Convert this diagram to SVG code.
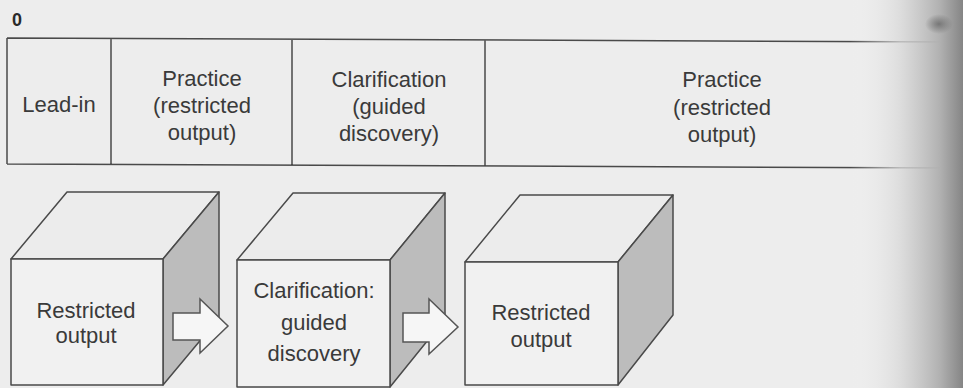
<svg xmlns="http://www.w3.org/2000/svg" width="963" height="388" viewBox="0 0 963 388">
  <defs>
    <linearGradient id="edge" x1="850" y1="0" x2="963" y2="0" gradientUnits="userSpaceOnUse">
      <stop offset="0" stop-color="#f2f2f2" stop-opacity="0"/>
      <stop offset="0.45" stop-color="#d8d8d8" stop-opacity="0.8"/>
      <stop offset="0.8" stop-color="#b0b0b0"/>
      <stop offset="1" stop-color="#858585"/>
    </linearGradient>
    <radialGradient id="smudge">
      <stop offset="0" stop-color="#777"/>
      <stop offset="1" stop-color="#777" stop-opacity="0"/>
    </radialGradient>
  </defs>
  <style>
    .t { font-family: "Liberation Sans", Arial, sans-serif; font-size: 22px; fill: #3a3a3a; text-anchor: middle; }
    .rule { stroke: #4a4a4a; stroke-width: 1.5; fill: none; }
    .front { fill: #f1f1f1; stroke: #4a4a4a; stroke-width: 1.5; stroke-linejoin: round; }
    .top { fill: #ececec; stroke: #4a4a4a; stroke-width: 1.5; stroke-linejoin: round; }
    .side { fill: #bcbcbc; stroke: #4a4a4a; stroke-width: 1.5; stroke-linejoin: round; }
    .arrow { fill: #f6f6f6; stroke: #555; stroke-width: 1.5; stroke-linejoin: miter; }
  </style>
  <rect width="963" height="388" fill="#ededed"/>

  <text x="12" y="26" font-family="Liberation Sans, Arial, sans-serif" font-size="18" font-weight="bold" fill="#2a2a2a">0</text>

  <g id="table">
    <path class="rule" d="M7 38 L963 42 M7 164 L963 168 M7 38 L7 164 M111 38.4 L111 164.4 M292 39.2 L292 165.2 M485 40 L485 166"/>
  </g>
  <g id="cell-leadin">
    <text class="t" x="59" y="112">Lead-in</text>
  </g>
  <g id="cell-practice1">
    <text class="t" x="202" y="86">Practice</text>
    <text class="t" x="202" y="113">(restricted</text>
    <text class="t" x="202" y="140">output)</text>
  </g>
  <g id="cell-clarification">
    <text class="t" x="389" y="87">Clarification</text>
    <text class="t" x="389" y="114">(guided</text>
    <text class="t" x="389" y="141">discovery)</text>
  </g>
  <g id="cell-practice2">
    <text class="t" x="722" y="87">Practice</text>
    <text class="t" x="722" y="115">(restricted</text>
    <text class="t" x="722" y="142">output)</text>
  </g>

  <g id="box1">
    <polygon class="top" points="11,259 67,192 219,192 163,259"/>
    <polygon class="side" points="163,259 219,192 219,318 163,385"/>
    <rect class="front" x="11" y="259" width="152" height="126"/>
    <text class="t" x="86" y="318">Restricted</text>
    <text class="t" x="86" y="343">output</text>
  </g>
  <g id="box2">
    <polygon class="top" points="237,260 293,193 445,193 390,260"/>
    <polygon class="side" points="390,260 445,193 445,319 390,387"/>
    <rect class="front" x="237" y="260" width="153" height="127"/>
    <text class="t" x="314" y="298">Clarification:</text>
    <text class="t" x="314" y="330">guided</text>
    <text class="t" x="314" y="361">discovery</text>
  </g>
  <g id="box3">
    <polygon class="top" points="465,262 520,195 673,195 618,262"/>
    <polygon class="side" points="618,262 673,195 673,315 618,385"/>
    <rect class="front" x="465" y="262" width="153" height="123"/>
    <text class="t" x="541" y="320">Restricted</text>
    <text class="t" x="541" y="347">output</text>
  </g>

  <g id="connectors">
    <polygon class="arrow" points="173,313 200,313 200,299 228,326 200,353 200,340 173,340"/>
    <polygon class="arrow" points="403,313 429,313 429,299 458,327 429,354 429,342 403,342"/>
  </g>

  <rect x="850" y="0" width="113" height="388" fill="url(#edge)"/>
  <ellipse cx="939" cy="24" rx="14" ry="10" fill="url(#smudge)"/>
</svg>
